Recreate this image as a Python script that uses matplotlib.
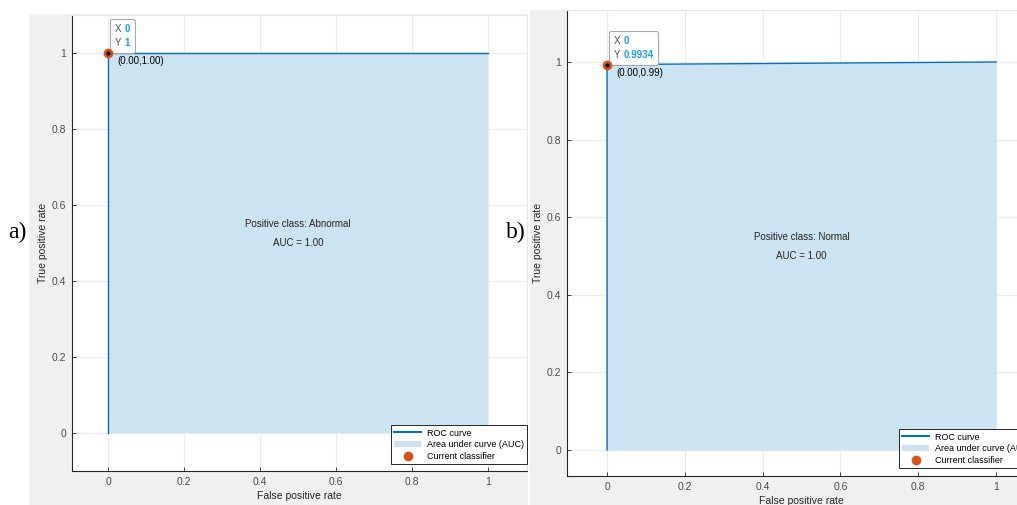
import matplotlib.pyplot as plt
from matplotlib.patches import Rectangle, Patch
from matplotlib.lines import Line2D
from matplotlib.offsetbox import TextArea, HPacker, VPacker, AnnotationBbox

plt.rcParams['font.family'] = ['Liberation Sans', 'DejaVu Sans']

W, H = 1017, 505

# ROC curves (false positive rate, true positive rate)
fpr_a = [0.0, 0.0, 1.0]
tpr_a = [0.0, 1.0, 1.0]
fpr_b = [0.0, 0.0, 1.0]
tpr_b = [0.0, 0.9934, 1.0]
class_names = ['Abnormal', 'Normal']
auc_values = [1.00, 1.00]
op_points = [(0.0, 1.0), (0.0, 0.9934)]
ticks = [0, 0.2, 0.4, 0.6, 0.8, 1]
tick_labels = ['0', '0.2', '0.4', '0.6', '0.8', '1']
panel_tags = ['a)', 'b)']

ROC_BLUE = '#0072BD'
AUC_FILL = '#cce3f2'
ORANGE = '#D95319'
TIP_BLUE = '#1a9bff'
FIG_GRAY = '#f0f0f0'
DARK = '#262626'


def frac(x0, y0, x1, y1):
    # pixel box measured from the top-left corner -> figure fractions
    return [x0 / W, 1 - y1 / H, (x1 - x0) / W, (y1 - y0) / H]


def tip_row(key, val):
    return HPacker(children=[
        TextArea(key, textprops=dict(color='#505050', size=7)),
        TextArea(val, textprops=dict(color=TIP_BLUE, size=7, weight='bold')),
    ], sep=2, pad=0, align='baseline')


def draw_panel(ax, fpr, tpr, name, auc, op, xlim, ylim, legend_y):
    ax.set_facecolor('white')
    ax.fill_between(fpr, tpr, 0, color=AUC_FILL, lw=0, zorder=1)
    ax.plot(fpr, tpr, color=ROC_BLUE, lw=1, zorder=2)
    ax.plot(*op, 'o', color=ORANGE, ms=6, zorder=8, clip_on=False)
    ax.plot(*op, 'o', color='black', ms=2, zorder=9, clip_on=False)

    ax.text(0.5, 0.55, f'Positive class: {name}', ha='center', va='center',
            size=7, color=DARK, zorder=5)
    ax.text(0.5, 0.5, f'AUC = {auc:.2f}', ha='center', va='center',
            size=7, color=DARK, zorder=5)

    # data tip
    box = VPacker(children=[tip_row('X', f'{op[0]:g}'), tip_row('Y', f'{op[1]:g}')],
                  sep=3, pad=0, align='left')
    ab = AnnotationBbox(box, op, xybox=(5.0, 3.5), xycoords='data',
                        boxcoords='offset points', box_alignment=(0, 0),
                        frameon=True, pad=0.3,
                        bboxprops=dict(edgecolor='#a8a8a8', facecolor='white', lw=0.8,
                                       boxstyle='round,pad=0.35,rounding_size=0.15'),
                        zorder=6)
    ax.add_artist(ab)
    ax.annotate(f'({op[0]:.2f},{op[1]:.2f})', op, xytext=(6.5, -6),
                textcoords='offset points', ha='left', va='center', size=7,
                color='black', zorder=6)

    ax.set_xlim(*xlim)
    ax.set_ylim(*ylim)
    ax.set_xticks(ticks, tick_labels)
    ax.set_yticks(ticks, tick_labels)
    ax.tick_params(direction='in', length=3, width=0.6, colors=DARK,
                   labelcolor='#4d4d4d', labelsize=7.5, pad=4)
    ax.grid(True, color='#ebebeb', lw=0.8)
    ax.set_axisbelow(True)
    for s in ['left', 'bottom']:
        ax.spines[s].set_color(DARK)
        ax.spines[s].set_linewidth(0.8)
    for s in ['top', 'right']:
        ax.spines[s].set_color('#e6e6e6')
        ax.spines[s].set_linewidth(0.8)
    ax.set_xlabel('False positive rate', size=7.5, color=DARK, labelpad=3)
    ax.set_ylabel('True positive rate', size=7.5, color=DARK, labelpad=3)

    handles = [
        Line2D([], [], color=ROC_BLUE, lw=1.5),
        Patch(facecolor=AUC_FILL, edgecolor='none'),
        Line2D([], [], marker='o', ls='none', color=ORANGE, ms=6),
    ]
    leg = ax.legend(handles, ['ROC curve', 'Area under curve (AUC)', 'Current classifier'],
                    loc='lower right', bbox_to_anchor=(1, legend_y), borderaxespad=0,
                    fontsize=6.5, fancybox=False, framealpha=1, edgecolor=DARK,
                    handlelength=3, handletextpad=0.6, labelspacing=0.3,
                    borderpad=0.35)
    leg.get_frame().set_linewidth(0.7)
    leg.set_zorder(7)


fig = plt.figure(figsize=(W / 100, H / 100), dpi=100)

# window backgrounds
for box in [(29, 14, 528, 505), (530, 10, 1017, 505)]:
    r = frac(*box)
    fig.add_artist(Rectangle((r[0], r[1]), r[2], r[3], transform=fig.transFigure,
                             color=FIG_GRAY, lw=0, zorder=0))

ax_a = fig.add_axes(frac(72, 15, 527, 471))
ax_b = fig.add_axes(frac(567, 10, 1035, 476))

draw_panel(ax_a, fpr_a, tpr_a, class_names[0], auc_values[0], op_points[0],
           (-0.095, 1.103), (-0.1, 1.1), 0.015)
draw_panel(ax_b, fpr_b, tpr_b, class_names[1], auc_values[1], op_points[1],
           (-0.103, 1.1), (-0.067, 1.134), 0.017)

fig.text(8 / W, 1 - 232 / H, panel_tags[0], family='Liberation Serif', size=17,
         va='center', ha='left')
fig.text(506 / W, 1 - 232 / H, panel_tags[1], family='Liberation Serif', size=17,
         va='center', ha='left')

fig.savefig('out.png', dpi=100)
